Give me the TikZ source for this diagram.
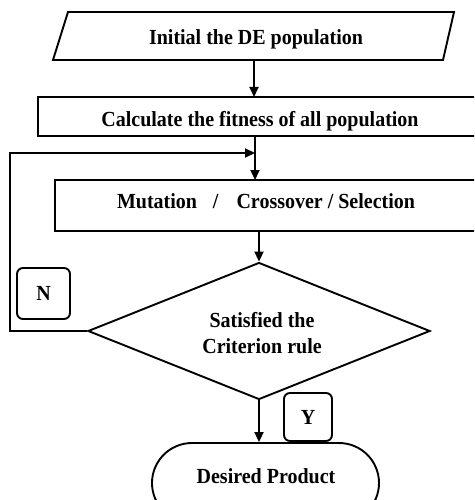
\documentclass[tikz,border=0pt]{standalone}
\usepackage{fontspec}
\setmainfont{Liberation Serif}[FakeStretch=0.93]
\usetikzlibrary{shapes.geometric,shapes.misc,arrows.meta}
\begin{document}
\begin{tikzpicture}[x=1pt,y=-1pt,line width=1.9pt,
  lbl/.style={font=\fontsize{21.5}{26}\selectfont\bfseries,inner sep=0pt},
  arr/.style={-{Triangle[length=10pt,width=9pt]}},
  tagbox/.style={draw,rounded corners=6pt,inner sep=0pt,font=\fontsize{21.5}{26}\selectfont\bfseries}]
\useasboundingbox (0,0) rectangle (474,500);
\clip (0,0) rectangle (474,500);
% input parallelogram
\draw (68,12) -- (454,12) -- (443,60) -- (53,60) -- cycle;
\node[lbl,anchor=base] (init) at (256,45) {Initial the DE population};
\coordinate (p1) at (254,60);
% fitness box
\draw (38,97) rectangle (530,136);
\node[lbl,anchor=base] (calc) at (260,127) {Calculate the fitness of all population};
\coordinate (c1) at (254,97);
\coordinate (c2) at (255,136);
% mutation box
\draw (55,180) rectangle (530,231);
\node[lbl,anchor=base] (mut) at (266,208) {Mutation\hspace{16pt}/\hspace{18pt}Crossover / Selection};
\coordinate (m1) at (255,180);
\coordinate (j1) at (255,153);
\coordinate (fb) at (10,153);
% decision
\node[diamond,draw,minimum width=342pt,minimum height=137pt,inner sep=0pt,shape aspect=2.5] (dd) at (259,331) {};
\coordinate (m2) at (dd.north |- 0,231);
\node[lbl,align=center,anchor=base] (dt1) at (262,327) {Satisfied the};
\node[lbl,align=center,anchor=base] (dt2) at (262,353) {Criterion rule};
% terminal
\node[rounded rectangle,draw,minimum width=227pt,minimum height=80pt,inner sep=0pt] (term) at (265.5,483) {};
\node[lbl,anchor=base] (tt) at (266,483) {Desired Product};
% labels
\node[tagbox,minimum width=53pt,minimum height=51pt] (nlab) at (43.5,293.5) {N};
\node[tagbox,minimum width=48pt,minimum height=48pt] (ylab) at (308,417) {Y};
% connectors
\draw[arr] (p1) -- (c1);
\draw[arr] (c2) -- (m1);
\draw[arr] (m2) -- (dd.north);
\draw[arr] (dd.south) -- (dd.south |- term.north);
\draw[arr] (dd.west) -- (dd.west -| fb) -- (fb) -- (j1);
\end{tikzpicture}
\end{document}
